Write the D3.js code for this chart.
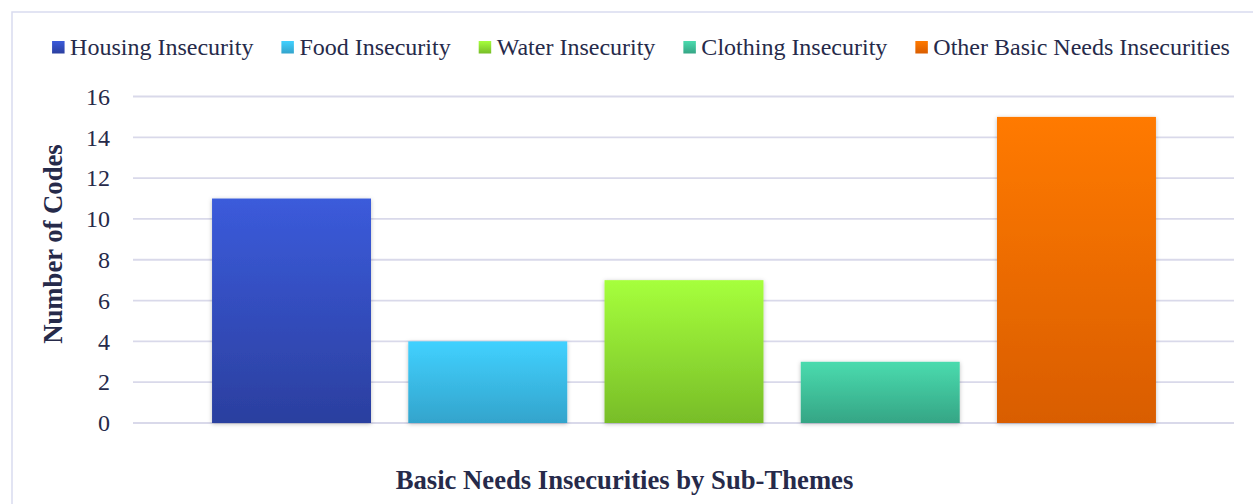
<!DOCTYPE html>
<html><head><meta charset="utf-8">
<script src="https://cdn.jsdelivr.net/npm/d3@7"></script>
<style>body{margin:0;background:#fff}svg{display:block}
svg text{font-family:'Liberation Serif','Times New Roman',serif !important;}</style>
</head><body>
<svg id="c" width="1253" height="504"></svg>
<script>
const categories = ["Housing Insecurity","Food Insecurity","Water Insecurity","Clothing Insecurity","Other Basic Needs Insecurities"];
const values = [11, 4, 7, 3, 15];
const yTicks = [0,2,4,6,8,10,12,14,16];
const topColors = ["#3b5bdb","#41d1ff","#a6ff3c","#4adbae","#ff7a00"];
const bottomColors = ["#2b3f9f","#33a4cc","#78bd28","#35a585","#d95d00"];
const yTitle = "Number of Codes";
const xTitle = "Basic Needs Insecurities by Sub-Themes";

const svg = d3.select("#c");
const font = "'Liberation Serif','Times New Roman',serif";
const txt = "#262a4a";

const defs = svg.append("defs");
categories.forEach((c,i)=>{
  const g = defs.append("linearGradient").attr("id","g"+i).attr("x1",0).attr("y1",0).attr("x2",0).attr("y2",1);
  g.append("stop").attr("offset","0%").attr("stop-color",topColors[i]);
  g.append("stop").attr("offset","100%").attr("stop-color",bottomColors[i]);
});
const f = defs.append("filter").attr("id","sh").attr("x","-10%").attr("y","-10%").attr("width","120%").attr("height","120%");
f.append("feDropShadow").attr("dx",0).attr("dy",1).attr("stdDeviation",2).attr("flood-color","#000").attr("flood-opacity",0.25);

// border
svg.append("rect").attr("x",12).attr("y",12).attr("width",1300).attr("height",600)
  .attr("fill","none").attr("stroke","#d9dbf0").attr("stroke-width",1.5);

const y = d3.scaleLinear().domain([0,16]).range([423,96.5]);
const x = d3.scaleBand().domain(categories).range([193.4,1174.6]).paddingInner(0.19).paddingOuter(0.095);

// gridlines
svg.append("g").selectAll("line").data(yTicks).join("line")
  .attr("x1",133).attr("x2",1234).attr("y1",d=>y(d)).attr("y2",d=>y(d))
  .attr("stroke","#d9d9ea").attr("stroke-width",1.8);

// y axis labels
const ya = svg.append("g").attr("transform","translate(110,0)")
  .call(d3.axisLeft(y).tickValues(yTicks).tickSize(0).tickPadding(0));
ya.attr("font-family",font).attr("font-size",24);
ya.select(".domain").remove();
ya.selectAll("text").style("font-family",font).attr("font-size",24).attr("fill",txt);

// bars
svg.append("g").selectAll("rect").data(values).join("rect")
  .attr("x",(d,i)=>x(categories[i])).attr("width",x.bandwidth())
  .attr("y",d=>y(d)).attr("height",d=>y(0)-y(d))
  .attr("fill",(d,i)=>`url(#g${i})`).attr("filter","url(#sh)");

// titles
svg.append("text").attr("x",624.5).attr("y",489).attr("text-anchor","middle")
  .style("font-family",font).attr("font-weight","bold").attr("font-size",26.67).attr("fill",txt).text(xTitle);
svg.append("text").attr("transform","translate(62,244) rotate(-90)").attr("text-anchor","middle")
  .style("font-family",font).attr("font-weight","bold").attr("font-size",26.67).attr("fill",txt).text(yTitle);

// legend
const lg = svg.append("g");
const items = lg.selectAll("g").data(categories).join("g");
items.append("rect").attr("width",12.5).attr("height",12.5).attr("y",41).attr("fill",(d,i)=>`url(#g${i})`);
items.append("text").attr("x",18).attr("y",55).style("font-family",font).attr("font-size",24).attr("fill",txt).text(d=>d);
let cx = 0;
items.each(function(){
  const w = d3.select(this).select("text").node().getComputedTextLength();
  d3.select(this).attr("transform",`translate(${cx},0)`);
  cx += 18 + w + 28;
});
const total = cx - 28;
lg.attr("transform",`translate(${641 - total/2},0)`);
</script>
</body></html>
